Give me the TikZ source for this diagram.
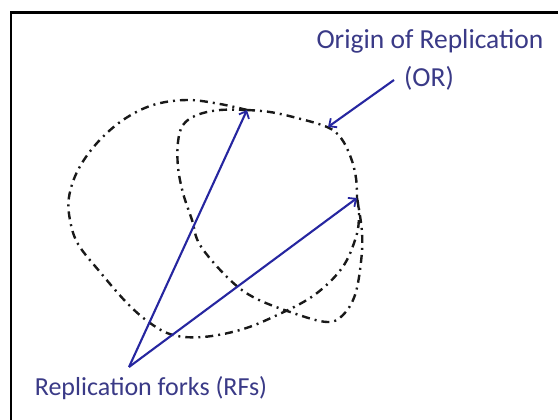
\documentclass[tikz,border=0pt]{standalone}
\usepackage{fontspec}
\setmainfont{Carlito}
\usetikzlibrary{arrows.meta}
\definecolor{txtblue}{RGB}{58,58,135}
\definecolor{arrblue}{RGB}{38,38,160}
\tikzset{
  loopline/.style={line width=2.4pt, black!90, dash pattern=on 8pt off 5pt on 2pt off 5pt},
  fork/.style={line width=2.1pt, arrblue, -{Straight Barb[length=6pt,width=11pt,line width=1.8pt]}},
  lab/.style={text=txtblue, inner sep=0pt, anchor=base},
  big/.style={font=\fontsize{27.5}{32}\selectfont},
  mid/.style={font=\fontsize{26}{30}\selectfont},
  frame/.style={line width=2.2pt, black}
}
\begin{document}
\begin{tikzpicture}[x=1pt,y=-1pt]
\useasboundingbox (0,0) rectangle (558,420);
\fill[white] (0,0) rectangle (558,420);
\draw[frame] (11,420) -- (11,12.5) -- (558,12.5);

% fork points
\coordinate (F1) at (247,110);
\coordinate (F2) at (357,198);
\coordinate (apex) at (129,367);
\coordinate (ortip) at (328,127);
\coordinate (orstart) at (394,80);

% arc 1: upper right (with origin)
\draw[loopline] plot[smooth, tension=0.6] coordinates {(F1) (270,112) (297,118) (327,127) (341,138) (351,158) (356,178) (F2)};
% arc 2: outer loop
\draw[loopline] plot[smooth, tension=0.6] coordinates {(F1) (220,104) (187,100) (153,105) (123,120) (97,143) (78,170) (69,197) (70,220) (78,244) (100,272) (127,303) (150,323) (173,335) (203,337) (240,330) (273,317) (313,296) (342,268) (356,237) (359,215) (F2)};
% arc 3: inner loop
\draw[loopline] plot[smooth, tension=0.6] coordinates {(F1) (220,110) (197,115) (183,125) (178,142) (178,167) (183,193) (192,220) (200,245) (227,277) (253,297) (293,313) (327,322) (343,315) (355,295) (361,262) (362,232) (F2)};

% labels
\node[lab,big] (orlab) at (430,49) {Origin of Replication};
\node[lab,big] (or) at (429,87) {(OR)};
\node[lab,mid] (rf) at (151,395) {Replication forks (RFs)};

% arrows
\draw[fork] (apex) -- (F1);
\draw[fork] (apex) -- (F2);
\draw[fork] (orstart) -- (ortip);
\end{tikzpicture}
\end{document}
